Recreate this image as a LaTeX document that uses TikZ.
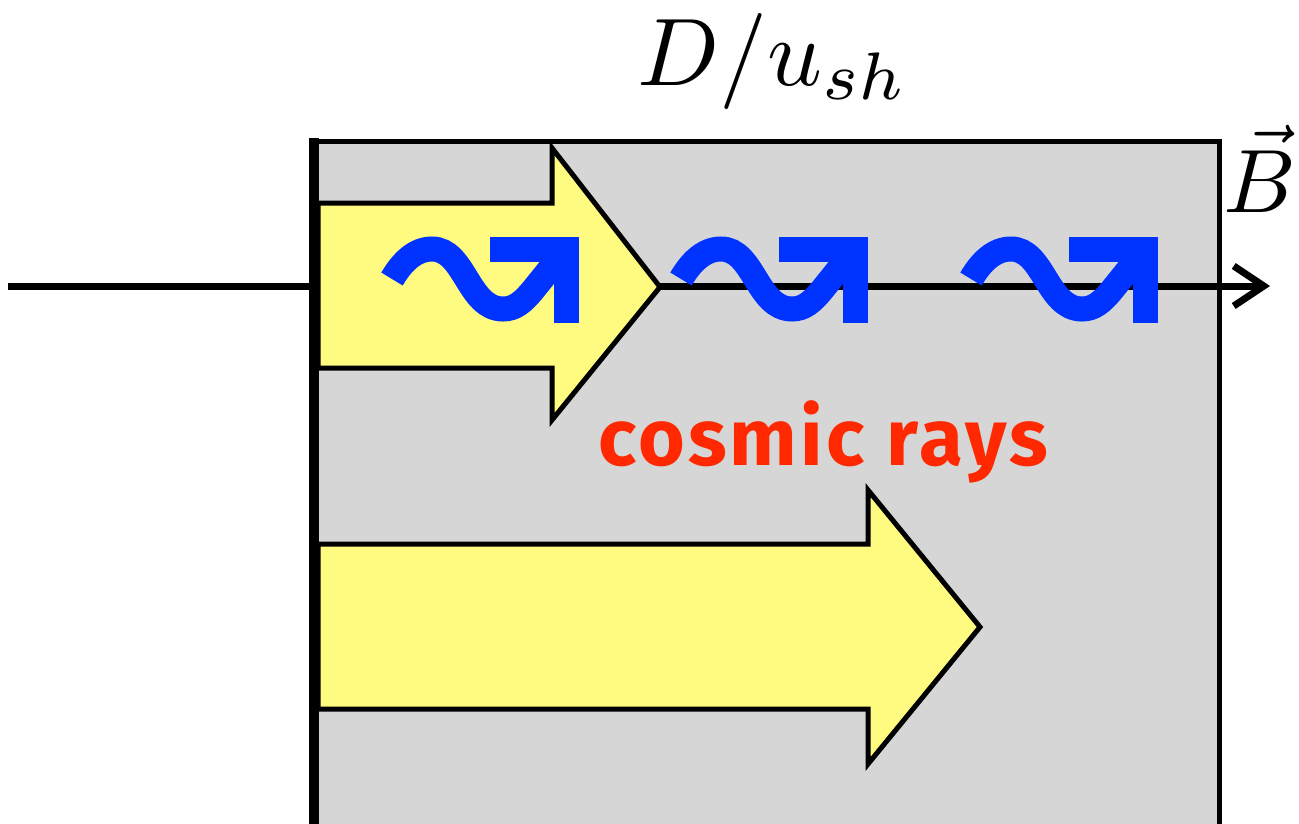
\documentclass[tikz,border=0pt]{standalone}
\usepackage{fontspec}
\newfontfamily\crfont{Fira Sans}[LetterSpace=4]
\usetikzlibrary{arrows.meta}
\definecolor{boxgray}{RGB}{214,214,214}
\definecolor{arryellow}{RGB}{255,250,128}
\definecolor{wavblue}{RGB}{0,51,255}
\definecolor{crred}{RGB}{255,40,0}
\begin{document}
\begin{tikzpicture}[x=1pt,y=-1pt,
  bigarrow/.style={fill=arryellow,draw=black,line width=5pt,miter limit=10,line join=miter},
  squiggle/.style={draw=wavblue,line width=25pt,line cap=butt,line join=miter},
  axisline/.style={line width=7pt,-{Straight Barb[length=30pt,width=40pt]}}]
\useasboundingbox (0,0) rectangle (1299,823);
\clip (0,0) rectangle (1299,823);
% gray region
\draw[fill=boxgray,line width=5pt] (314,141) rectangle (1219,830);
% axis
\coordinate (axstart) at (8,286);
\coordinate (axend) at (1270,286);
\draw[axisline] (axstart) -- (axend);
% yellow arrows
\draw[bigarrow] (318,203) -- (552,203) -- (552,148) -- (660,287) -- (552,420) -- (552,368) -- (318,368) -- cycle;
\draw[bigarrow] (318,544) -- (868,544) -- (868,490) -- (980,627) -- (868,764) -- (868,709) -- (318,709) -- cycle;
% left thick border
\coordinate (ltop) at (314,138);
\coordinate (lbot) at (314,830);
\draw[line width=10pt] (ltop) -- (lbot);
% squiggles
\foreach \dx in {0,289,579}{
  \begin{scope}[xshift=\dx pt]
  \draw[squiggle] (392,279) .. controls (402,262) and (415,249) .. (432,249)
     .. controls (465,249) and (468,309) .. (503,309)
     .. controls (515,309) and (523,302) .. (533,290) -- (566,249);
  \draw[squiggle] (490,249) -- (566,249) -- (566,323);
  \end{scope}
}
% texts
\node[anchor=base,inner sep=0pt] (title) at (773,85) {\scalebox{9.6}{$D/u_{sh}$}};
\node[anchor=base,inner sep=0pt] (bvec) at (1260,212) {\scalebox{9}{$\vec{B}$}};
\node[anchor=base,inner sep=0pt,text=crred] (cr) at (823,465) {\fontsize{80}{90}\selectfont\crfont\bfseries cosmic rays};
\end{tikzpicture}
\end{document}
